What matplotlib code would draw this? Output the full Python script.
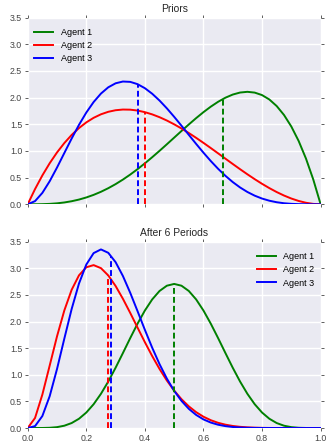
import numpy as np
import matplotlib
matplotlib.use("Agg")
import matplotlib.pyplot as plt

# grid of x values (share of successes)
x_vals = np.linspace(0, 1, 41)

# prior densities
prior_agent1 = [0.0, 0.0003, 0.0024, 0.0078, 0.018, 0.0342, 0.0574, 0.0884, 0.128, 0.1766,
                0.2344, 0.3016, 0.378, 0.4634, 0.5574, 0.6592, 0.768, 0.8828, 1.0024, 1.1253,
                1.25, 1.3747, 1.4974, 1.6159, 1.728, 1.8311, 1.9224, 1.9991, 2.058, 2.0959,
                2.1094, 2.0947, 2.048, 1.9653, 1.8424, 1.6748, 1.458, 1.1872, 0.8574, 0.4634, 0.0]
prior_agent2 = [0.0, 0.2852, 0.5415, 0.7701, 0.972, 1.1484, 1.3005, 1.4293, 1.536, 1.6217,
                1.6875, 1.7346, 1.764, 1.7769, 1.7745, 1.7578, 1.728, 1.6862, 1.6335, 1.5711,
                1.5, 1.4214, 1.3365, 1.2463, 1.152, 1.0547, 0.9555, 0.8556, 0.756, 0.6579,
                0.5625, 0.4708, 0.384, 0.3032, 0.2295, 0.1641, 0.108, 0.0624, 0.0285, 0.0073, 0.0]
prior_agent3 = [0.0, 0.0593, 0.2138, 0.4324, 0.6889, 0.9617, 1.2332, 1.4896, 1.7203, 1.9176,
                2.0764, 2.1939, 2.269, 2.3024, 2.296, 2.2531, 2.1773, 2.0732, 1.9457, 1.7998,
                1.6406, 1.4733, 1.3025, 1.1326, 0.9677, 0.8111, 0.6657, 0.5338, 0.4168, 0.3156,
                0.2307, 0.1616, 0.1075, 0.067, 0.0384, 0.0196, 0.0085, 0.0028, 0.0006, 0.0, 0.0]

# densities after 6 periods
post_agent1 = [0.0, 0.0, 0.0007, 0.0045, 0.0164, 0.0434, 0.0934, 0.1739, 0.2907, 0.4469,
               0.6424, 0.8733, 1.1321, 1.4084, 1.6893, 1.9604, 2.2072, 2.4159, 2.5743, 2.6734,
               2.707, 2.6734, 2.5743, 2.4159, 2.2072, 1.9604, 1.6893, 1.4084, 1.1321, 0.8733,
               0.6424, 0.4469, 0.2907, 0.1739, 0.0934, 0.0434, 0.0164, 0.0045, 0.0007, 0.0, 0.0]
post_agent2 = [0.0, 0.1885, 0.6285, 1.1733, 1.7219, 2.2089, 2.5967, 2.8679, 3.0199, 3.0604,
               3.0034, 2.8664, 2.6683, 2.4277, 2.1619, 1.8859, 1.6124, 1.3513, 1.1099, 0.8929,
               0.7031, 0.5414, 0.4069, 0.2981, 0.2123, 0.1467, 0.0979, 0.0628, 0.0386, 0.0225,
               0.0124, 0.0063, 0.003, 0.0012, 0.0004, 0.0001, 0.0, 0.0, 0.0, 0.0, 0.0]
post_agent3 = [0.0, 0.0356, 0.2253, 0.5982, 1.108, 1.6795, 2.2357, 2.7137, 3.0709, 3.2857,
               3.3554, 3.2916, 3.1161, 2.8559, 2.5398, 2.1947, 1.8447, 1.5085, 1.2002, 0.9287,
               0.6982, 0.5095, 0.3601, 0.246, 0.1619, 0.1024, 0.0619, 0.0356, 0.0193, 0.0098,
               0.0046, 0.002, 0.0008, 0.0003, 0.0001, 0.0, 0.0, 0.0, 0.0, 0.0, 0.0]

# means (dashed lines) and density at the mean
prior_means = [0.667, 0.4, 0.375]
prior_heights = [1.975, 1.728, 2.253]
post_means = [0.5, 0.273, 0.286]
post_heights = [2.707, 2.882, 3.229]

labels = ["Agent 1", "Agent 2", "Agent 3"]
colors = ["green", "red", "blue"]

plt.rcParams["font.family"] = ["Liberation Sans", "DejaVu Sans"]


def style_axes(ax):
    ax.set_facecolor("#EAEAF2")
    for s in ax.spines.values():
        s.set_visible(False)
    ax.grid(True, color="white", linewidth=1.0)
    ax.set_axisbelow(True)
    ax.set_xlim(0, 1)
    ax.set_ylim(0, 3.5)
    ax.set_xticks(np.arange(0, 1.01, 0.2))
    ax.set_yticks(np.arange(0, 3.51, 0.5))
    ax.tick_params(axis="both", labelsize=6.3, colors="#444444", length=2, width=0.6,
                   top=True, right=True, pad=2)


def panel(ax, curves, means, heights, title, loc, anchor):
    style_axes(ax)
    for ys, lab, c in zip(curves, labels, colors):
        ax.plot(x_vals, ys, color=c, linewidth=1.4, label=lab)
    for m, h, c in zip(means, heights, colors):
        ax.plot([m, m], [0, h], color=c, linewidth=1.4, linestyle=(0, (3, 1.6)))
    ax.set_title(title, fontsize=7.4, color="#262626", pad=4)
    ax.legend(loc=loc, bbox_to_anchor=anchor, frameon=False, fontsize=6.5,
              handlelength=2.1, labelspacing=0.48, handletextpad=0.8, borderaxespad=0.35)


fig = plt.figure(figsize=(3.28, 4.44), dpi=100)
ax1 = fig.add_axes([0.0845, 0.5399, 0.893, 0.4203])
ax2 = fig.add_axes([0.0845, 0.036, 0.893, 0.4196])

panel(ax1, [prior_agent1, prior_agent2, prior_agent3], prior_means, prior_heights,
      "Priors", "upper left", (0, 0.982))
ax1.tick_params(axis="x", labelbottom=False)
panel(ax2, [post_agent1, post_agent2, post_agent3], post_means, post_heights,
      "After 6 Periods", "upper right", (1, 0.982))

fig.savefig("out.png", dpi=100)
plt.close(fig)
